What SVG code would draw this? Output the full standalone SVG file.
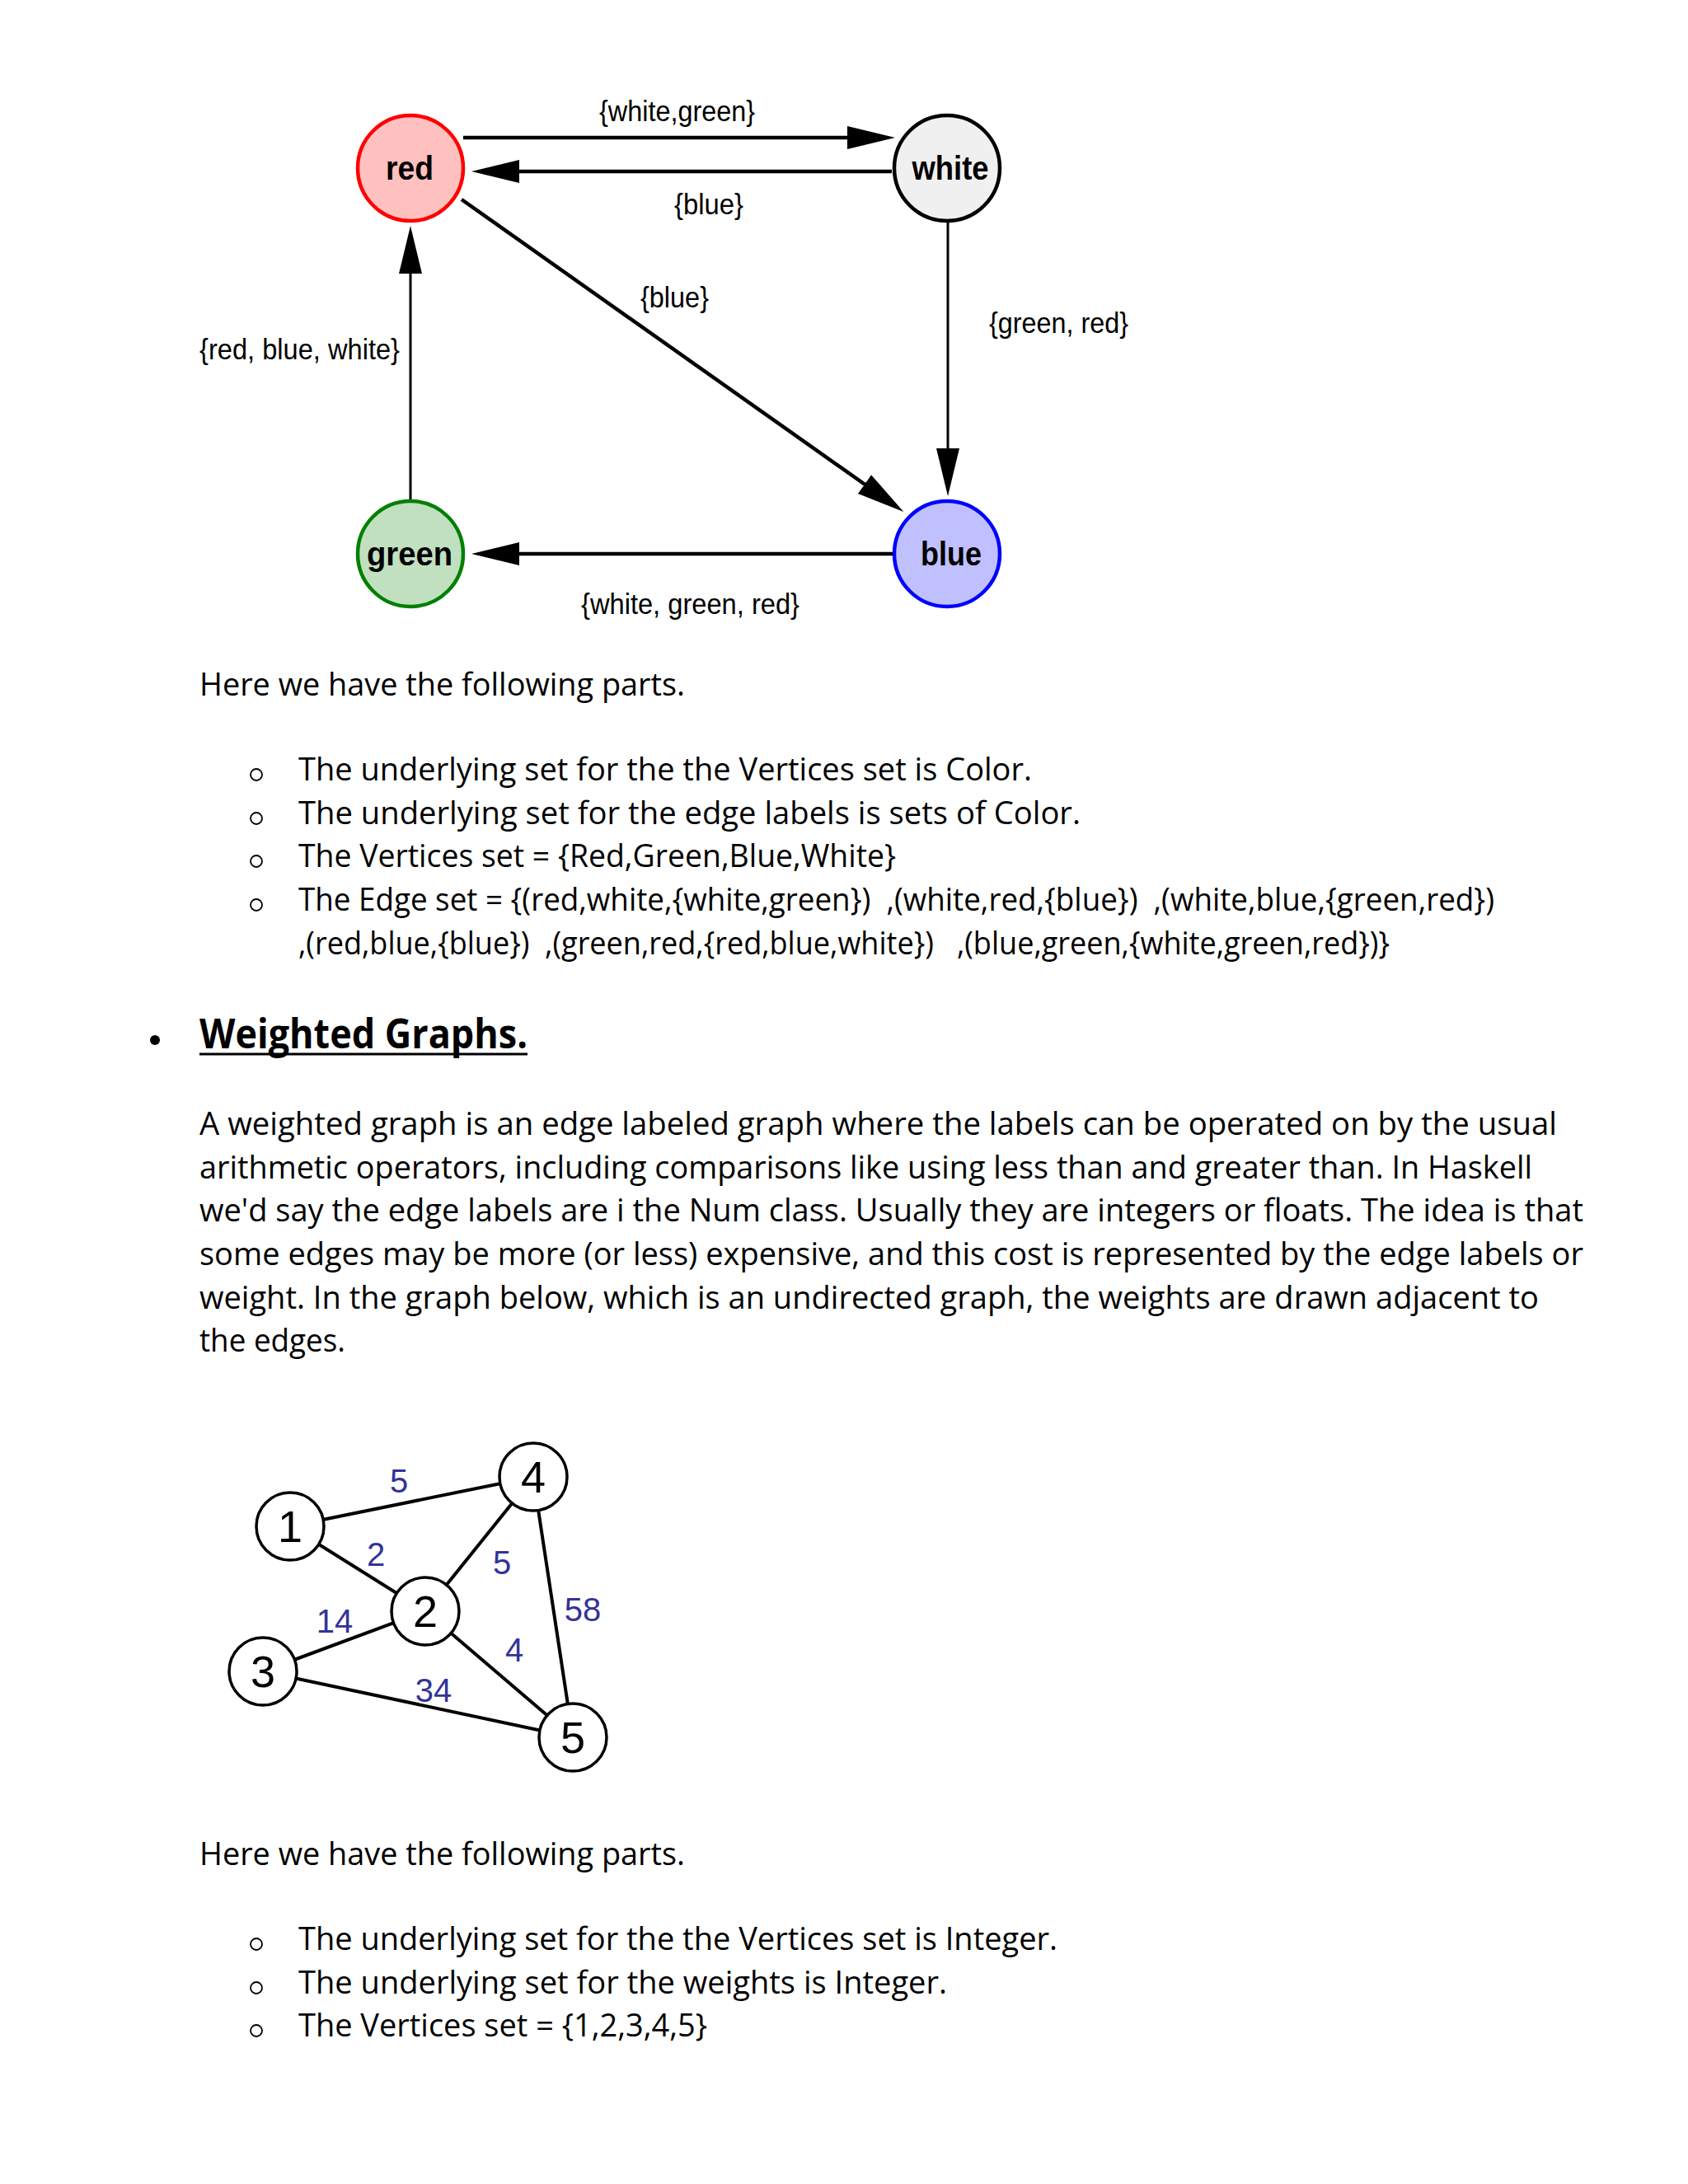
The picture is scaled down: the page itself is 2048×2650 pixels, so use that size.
<svg xmlns="http://www.w3.org/2000/svg" width="2048" height="2650" viewBox="0 0 2048 2650">
<style>
.body{font-family:"Open Sans","Noto Sans",sans-serif;font-size:39px;fill:#000}
.head{font-family:"Open Sans","Noto Sans",sans-serif;font-size:50px;font-weight:bold;fill:#000}
.lbl{font-family:"Liberation Sans",Arial,sans-serif;font-size:35px;fill:#000}
.nlbl{font-family:"Liberation Sans",Arial,sans-serif;font-size:40px;font-weight:bold;fill:#000;text-anchor:middle}
.arr{stroke:#000;fill:none;marker-end:url(#ah)}
.bul{fill:none;stroke:#000;stroke-width:1.8}
.wedge{stroke:#000;stroke-width:4}
.wnode circle{fill:#fff;stroke:#000;stroke-width:3.5}
.wnum{font-family:"Liberation Sans",Arial,sans-serif;font-size:54px;fill:#000;text-anchor:middle}
.wlbl{font-family:"Liberation Sans",Arial,sans-serif;font-size:40px;fill:#333399;text-anchor:middle}
</style>
<defs>
<marker id="ah" markerUnits="userSpaceOnUse" markerWidth="60" markerHeight="30" viewBox="0 0 60 30" refX="38" refY="15" orient="auto">
<path d="M0,1 L58,15 L0,29 z" fill="#000"/>
</marker>
</defs>
<rect width="2048" height="2650" fill="#fff"/>

<!-- Top diagram connectors -->
<g id="connectors">
<line class="arr" x1="562" y1="167" x2="1066" y2="167" stroke-width="4.5"/>
<line class="arr" x1="1082" y1="208" x2="592" y2="208" stroke-width="4.5"/>
<line class="arr" x1="560" y1="242" x2="1080" y2="609.5" stroke-width="4.5"/>
<line class="arr" x1="1150" y1="270" x2="1150" y2="582" stroke-width="3"/>
<line class="arr" x1="1085" y1="672" x2="592" y2="672" stroke-width="4.5"/>
<line class="arr" x1="498" y1="606" x2="498" y2="294" stroke-width="3"/>
</g>
<g id="edge-labels">
<text class="lbl" x="727" y="147" textLength="189" lengthAdjust="spacingAndGlyphs">{white,green}</text>
<text class="lbl" x="818" y="260" textLength="84" lengthAdjust="spacingAndGlyphs">{blue}</text>
<text class="lbl" x="777" y="373" textLength="83" lengthAdjust="spacingAndGlyphs">{blue}</text>
<text class="lbl" x="1200" y="404" textLength="169" lengthAdjust="spacingAndGlyphs">{green, red}</text>
<text class="lbl" x="242" y="436" textLength="243" lengthAdjust="spacingAndGlyphs">{red, blue, white}</text>
<text class="lbl" x="705" y="745" textLength="265" lengthAdjust="spacingAndGlyphs">{white, green, red}</text>
</g>
<g id="node-red">
<circle cx="498" cy="204" r="64" fill="#ffc0c0" stroke="#ff0000" stroke-width="4.5"/>
<text class="nlbl" x="497" y="218" textLength="58" lengthAdjust="spacingAndGlyphs">red</text>
</g>
<g id="node-white">
<circle cx="1149" cy="204" r="64" fill="#f0f0f0" stroke="#000" stroke-width="4.5"/>
<text class="nlbl" x="1153" y="218" textLength="93" lengthAdjust="spacingAndGlyphs">white</text>
</g>
<g id="node-green">
<circle cx="498" cy="672" r="64" fill="#c0e0c0" stroke="#008000" stroke-width="4.5"/>
<text class="nlbl" x="497" y="686" textLength="104" lengthAdjust="spacingAndGlyphs">green</text>
</g>
<g id="node-blue">
<circle cx="1149" cy="672" r="64" fill="#c0c0ff" stroke="#0000ff" stroke-width="4.5"/>
<text class="nlbl" x="1154" y="686" textLength="74" lengthAdjust="spacingAndGlyphs">blue</text>
</g>

<!-- Text section 1 -->
<g id="text-section-1">
<text class="body" x="242" y="844" textLength="589" lengthAdjust="spacingAndGlyphs">Here we have the following parts.</text>
<circle class="bul" cx="311" cy="940" r="7"/>
<circle class="bul" cx="311" cy="993" r="7"/>
<circle class="bul" cx="311" cy="1045" r="7"/>
<circle class="bul" cx="311" cy="1098" r="7"/>
<text class="body" x="362" y="947" textLength="890" lengthAdjust="spacingAndGlyphs">The underlying set for the the Vertices set is Color.</text>
<text class="body" x="362" y="1000" textLength="949" lengthAdjust="spacingAndGlyphs">The underlying set for the edge labels is sets of Color.</text>
<text class="body" x="362" y="1052" textLength="725" lengthAdjust="spacingAndGlyphs">The Vertices set = {Red,Green,Blue,White}</text>
<text class="body" x="362" y="1105" textLength="1451" lengthAdjust="spacingAndGlyphs" xml:space="preserve">The Edge set = {(red,white,{white,green})  ,(white,red,{blue})  ,(white,blue,{green,red})</text>
<text class="body" x="362" y="1158" textLength="1324" lengthAdjust="spacingAndGlyphs" xml:space="preserve">,(red,blue,{blue})  ,(green,red,{red,blue,white})   ,(blue,green,{white,green,red})}</text>
</g>

<!-- Heading -->
<g id="heading">
<circle cx="188" cy="1262" r="6" fill="#000"/>
<text class="head" x="242" y="1272" textLength="398" lengthAdjust="spacingAndGlyphs">Weighted Graphs.</text>
<line x1="242" y1="1279" x2="640" y2="1279" stroke="#000" stroke-width="3"/>
</g>

<!-- Paragraph -->
<g id="paragraph">
<text class="body" x="242" y="1377" textLength="1647" lengthAdjust="spacingAndGlyphs">A weighted graph is an edge labeled graph where the labels can be operated on by the usual</text>
<text class="body" x="242" y="1430" textLength="1617" lengthAdjust="spacingAndGlyphs">arithmetic operators, including comparisons like using less than and greater than. In Haskell</text>
<text class="body" x="242" y="1482" textLength="1679" lengthAdjust="spacingAndGlyphs">we'd say the edge labels are i the Num class. Usually they are integers or floats. The idea is that</text>
<text class="body" x="242" y="1535" textLength="1679" lengthAdjust="spacingAndGlyphs">some edges may be more (or less) expensive, and this cost is represented by the edge labels or</text>
<text class="body" x="242" y="1588" textLength="1625" lengthAdjust="spacingAndGlyphs">weight. In the graph below, which is an undirected graph, the weights are drawn adjacent to</text>
<text class="body" x="242" y="1640" textLength="177" lengthAdjust="spacingAndGlyphs">the edges.</text>
</g>

<!-- Weighted graph -->
<g id="weighted-connectors">
<line class="wedge" x1="352" y1="1852" x2="647" y2="1792"/>
<line class="wedge" x1="352" y1="1852" x2="516" y2="1955"/>
<line class="wedge" x1="647" y1="1792" x2="516" y2="1955"/>
<line class="wedge" x1="647" y1="1792" x2="695" y2="2108"/>
<line class="wedge" x1="319" y1="2028" x2="516" y2="1955"/>
<line class="wedge" x1="516" y1="1955" x2="695" y2="2108"/>
<line class="wedge" x1="319" y1="2028" x2="695" y2="2108"/>
<text class="wlbl" x="484" y="1811">5</text>
<text class="wlbl" x="456" y="1900">2</text>
<text class="wlbl" x="609" y="1910">5</text>
<text class="wlbl" x="707" y="1967">58</text>
<text class="wlbl" x="406" y="1981">14</text>
<text class="wlbl" x="624" y="2016">4</text>
<text class="wlbl" x="526" y="2065">34</text>
</g>
<g id="wnode-1" class="wnode"><circle cx="352" cy="1852" r="41"/><text class="wnum" x="352" y="1871">1</text></g>
<g id="wnode-2" class="wnode"><circle cx="516" cy="1955" r="41"/><text class="wnum" x="516" y="1974">2</text></g>
<g id="wnode-3" class="wnode"><circle cx="319" cy="2028" r="41"/><text class="wnum" x="319" y="2047">3</text></g>
<g id="wnode-4" class="wnode"><circle cx="647" cy="1792" r="41"/><text class="wnum" x="647" y="1811">4</text></g>
<g id="wnode-5" class="wnode"><circle cx="695" cy="2108" r="41"/><text class="wnum" x="695" y="2127">5</text></g>

<!-- Text section 2 -->
<g id="text-section-2">
<text class="body" x="242" y="2263" textLength="589" lengthAdjust="spacingAndGlyphs">Here we have the following parts.</text>
<circle class="bul" cx="311" cy="2359" r="7"/>
<circle class="bul" cx="311" cy="2412" r="7"/>
<circle class="bul" cx="311" cy="2464" r="7"/>
<text class="body" x="362" y="2366" textLength="921" lengthAdjust="spacingAndGlyphs">The underlying set for the the Vertices set is Integer.</text>
<text class="body" x="362" y="2419" textLength="787" lengthAdjust="spacingAndGlyphs">The underlying set for the weights is Integer.</text>
<text class="body" x="362" y="2471" textLength="496" lengthAdjust="spacingAndGlyphs">The Vertices set = {1,2,3,4,5}</text>
</g>
</svg>
